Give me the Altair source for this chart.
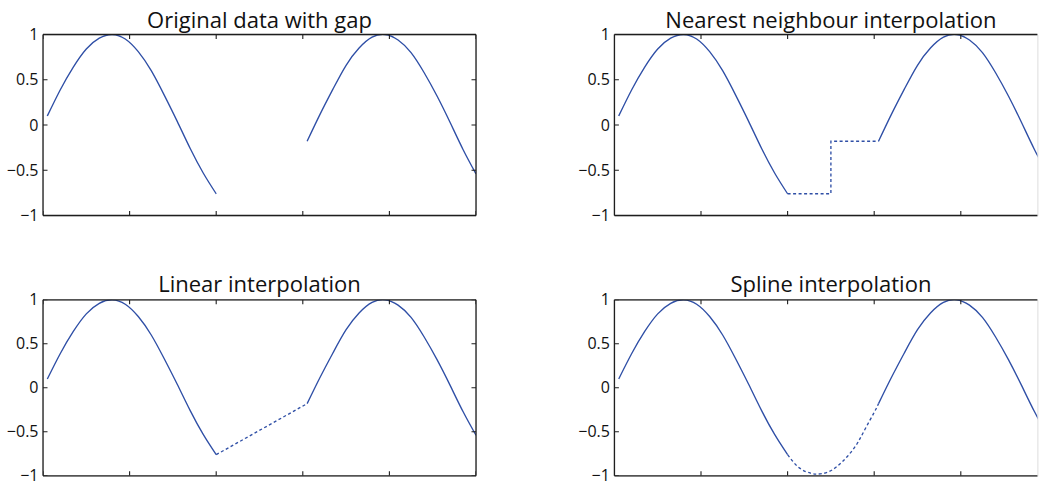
import altair as alt
import pandas as pd

# ---- data ----
x_left = [0.1, 0.4, 0.7, 1.0, 1.3, 1.6, 1.9, 2.2, 2.5, 2.8, 3.1, 3.4, 3.7, 4.0]
y_left = [0.10, 0.39, 0.64, 0.84, 0.96, 1.00, 0.95, 0.81, 0.60, 0.33, 0.04, -0.26, -0.53, -0.76]
x_right = [6.1, 6.4, 6.7, 7.0, 7.3, 7.6, 7.9, 8.2, 8.5, 8.8, 9.1, 9.4, 9.7, 10.0]
y_right = [-0.18, 0.12, 0.40, 0.66, 0.85, 0.97, 1.00, 0.94, 0.80, 0.58, 0.32, 0.03, -0.27, -0.54]

nearest_x = [4.0, 5.0, 5.0, 6.1]
nearest_y = [-0.76, -0.76, -0.18, -0.18]
linear_x = [4.0, 6.1]
linear_y = [-0.76, -0.18]
spline_x = [4.0, 4.27, 4.53, 4.69, 4.92, 5.15, 5.38, 5.61, 5.80, 6.0, 6.1]
spline_y = [-0.76, -0.91, -0.97, -0.98, -0.96, -0.89, -0.78, -0.63, -0.46, -0.28, -0.18]

x_ticks = [0, 2, 4, 6, 8, 10]
y_ticks = [-1, -0.5, 0, 0.5, 1]

titles = ["Original data with gap", "Nearest neighbour interpolation",
          "Linear interpolation", "Spline interpolation"]

BLUE = "#2f4fa6"
FRAME = "#1e1e1e"
FONT = "Open Sans"
TICK = 4.5

seg_df = pd.DataFrame({
    "x": x_left + x_right,
    "y": y_left + y_right,
    "seg": ["a"] * len(x_left) + ["b"] * len(x_right),
})
xt_df = pd.DataFrame({"x": x_ticks})
yt_df = pd.DataFrame({"y": y_ticks})

yaxis = alt.Axis(values=y_ticks, labelExpr="replace(format(datum.value, '~g'), '-', '\u2212')",
                 domain=False, ticks=False, tickSize=0,
                 grid=False, labelPadding=5, labelFont=FONT, labelFontSize=16,
                 labelColor="#111", labelFlush=False, title=None)


def panel(title, fill, W, H, xmax, right_border, dx, toff):
    xs = alt.Scale(domain=[0, xmax], nice=False, zero=False)
    ys = alt.Scale(domain=[-1, 1], nice=False, zero=False)
    X = alt.X("x:Q", scale=xs, axis=None)
    Y = alt.Y("y:Q", scale=ys, axis=yaxis)
    one = alt.Data(values=[{}])

    layers = []
    layers.append(alt.Chart(seg_df).mark_line(color=BLUE, strokeWidth=1.35,
                                              interpolate="natural", clip=True)
                  .encode(x=X, y=Y, detail="seg:N"))
    if fill is not None:
        fx, fy, interp = fill
        fdf = pd.DataFrame({"x": fx, "y": fy})
        layers.append(alt.Chart(fdf).mark_line(color=BLUE, strokeWidth=1.35,
                                               strokeDash=[3, 2.5], interpolate=interp,
                                               clip=True)
                      .encode(x=X, y=Y))
    # frame
    fr = dict(color=FRAME, strokeWidth=1.3)
    layers.append(alt.Chart(one).mark_rule(**fr).encode(
        x=alt.value(0), x2=alt.value(W), y=alt.value(0)))
    layers.append(alt.Chart(one).mark_rule(**fr).encode(
        x=alt.value(0), x2=alt.value(W), y=alt.value(H)))
    layers.append(alt.Chart(one).mark_rule(**fr).encode(
        x=alt.value(0), y=alt.value(0), y2=alt.value(H)))
    if right_border:
        layers.append(alt.Chart(one).mark_rule(**fr).encode(
            x=alt.value(W), y=alt.value(0), y2=alt.value(H)))
    # inward ticks
    tk = dict(color=FRAME, strokeWidth=1.1, clip=True)
    layers.append(alt.Chart(xt_df).mark_rule(**tk).encode(
        x=X, y=alt.value(H), y2=alt.value(H - TICK)))
    layers.append(alt.Chart(xt_df).mark_rule(**tk).encode(
        x=X, y=alt.value(0), y2=alt.value(TICK)))
    layers.append(alt.Chart(yt_df).mark_rule(**tk).encode(
        y=Y, x=alt.value(0), x2=alt.value(TICK)))
    if right_border:
        layers.append(alt.Chart(yt_df).mark_rule(**tk).encode(
            y=Y, x=alt.value(W - TICK), x2=alt.value(W)))

    return alt.layer(*layers).properties(
        width=W, height=H,
        title=alt.TitleParams(text=title, font=FONT, fontSize=22, fontWeight="normal",
                              color="#111", anchor="middle", baseline="alphabetic",
                              frame="group", offset=toff, dx=dx, dy=30),
    )


LW, RW = 433, 423
XR = 423 / 43.3

p1 = panel(titles[0], None, LW, 181, 10, True, 0, 7)
p2 = panel(titles[1], (nearest_x, nearest_y, "linear"), RW, 181, XR, False, 5, 7)
p3 = panel(titles[2], (linear_x, linear_y, "linear"), LW, 176, 10, True, 0, 8)
p4 = panel(titles[3], (spline_x, spline_y, "natural"), RW, 176, XR, False, 5, 8)

chart = alt.concat(p1, p2, p3, p4, columns=2, bounds="flush",
                   spacing={"row": 84.3, "column": 138.4}).properties(
    padding={"left": 5, "top": 8.5, "right": 0, "bottom": 12}
).configure_view(stroke=None).configure(background="white")

chart.save("out.html", embed_options={"renderer": "svg", "actions": False})
